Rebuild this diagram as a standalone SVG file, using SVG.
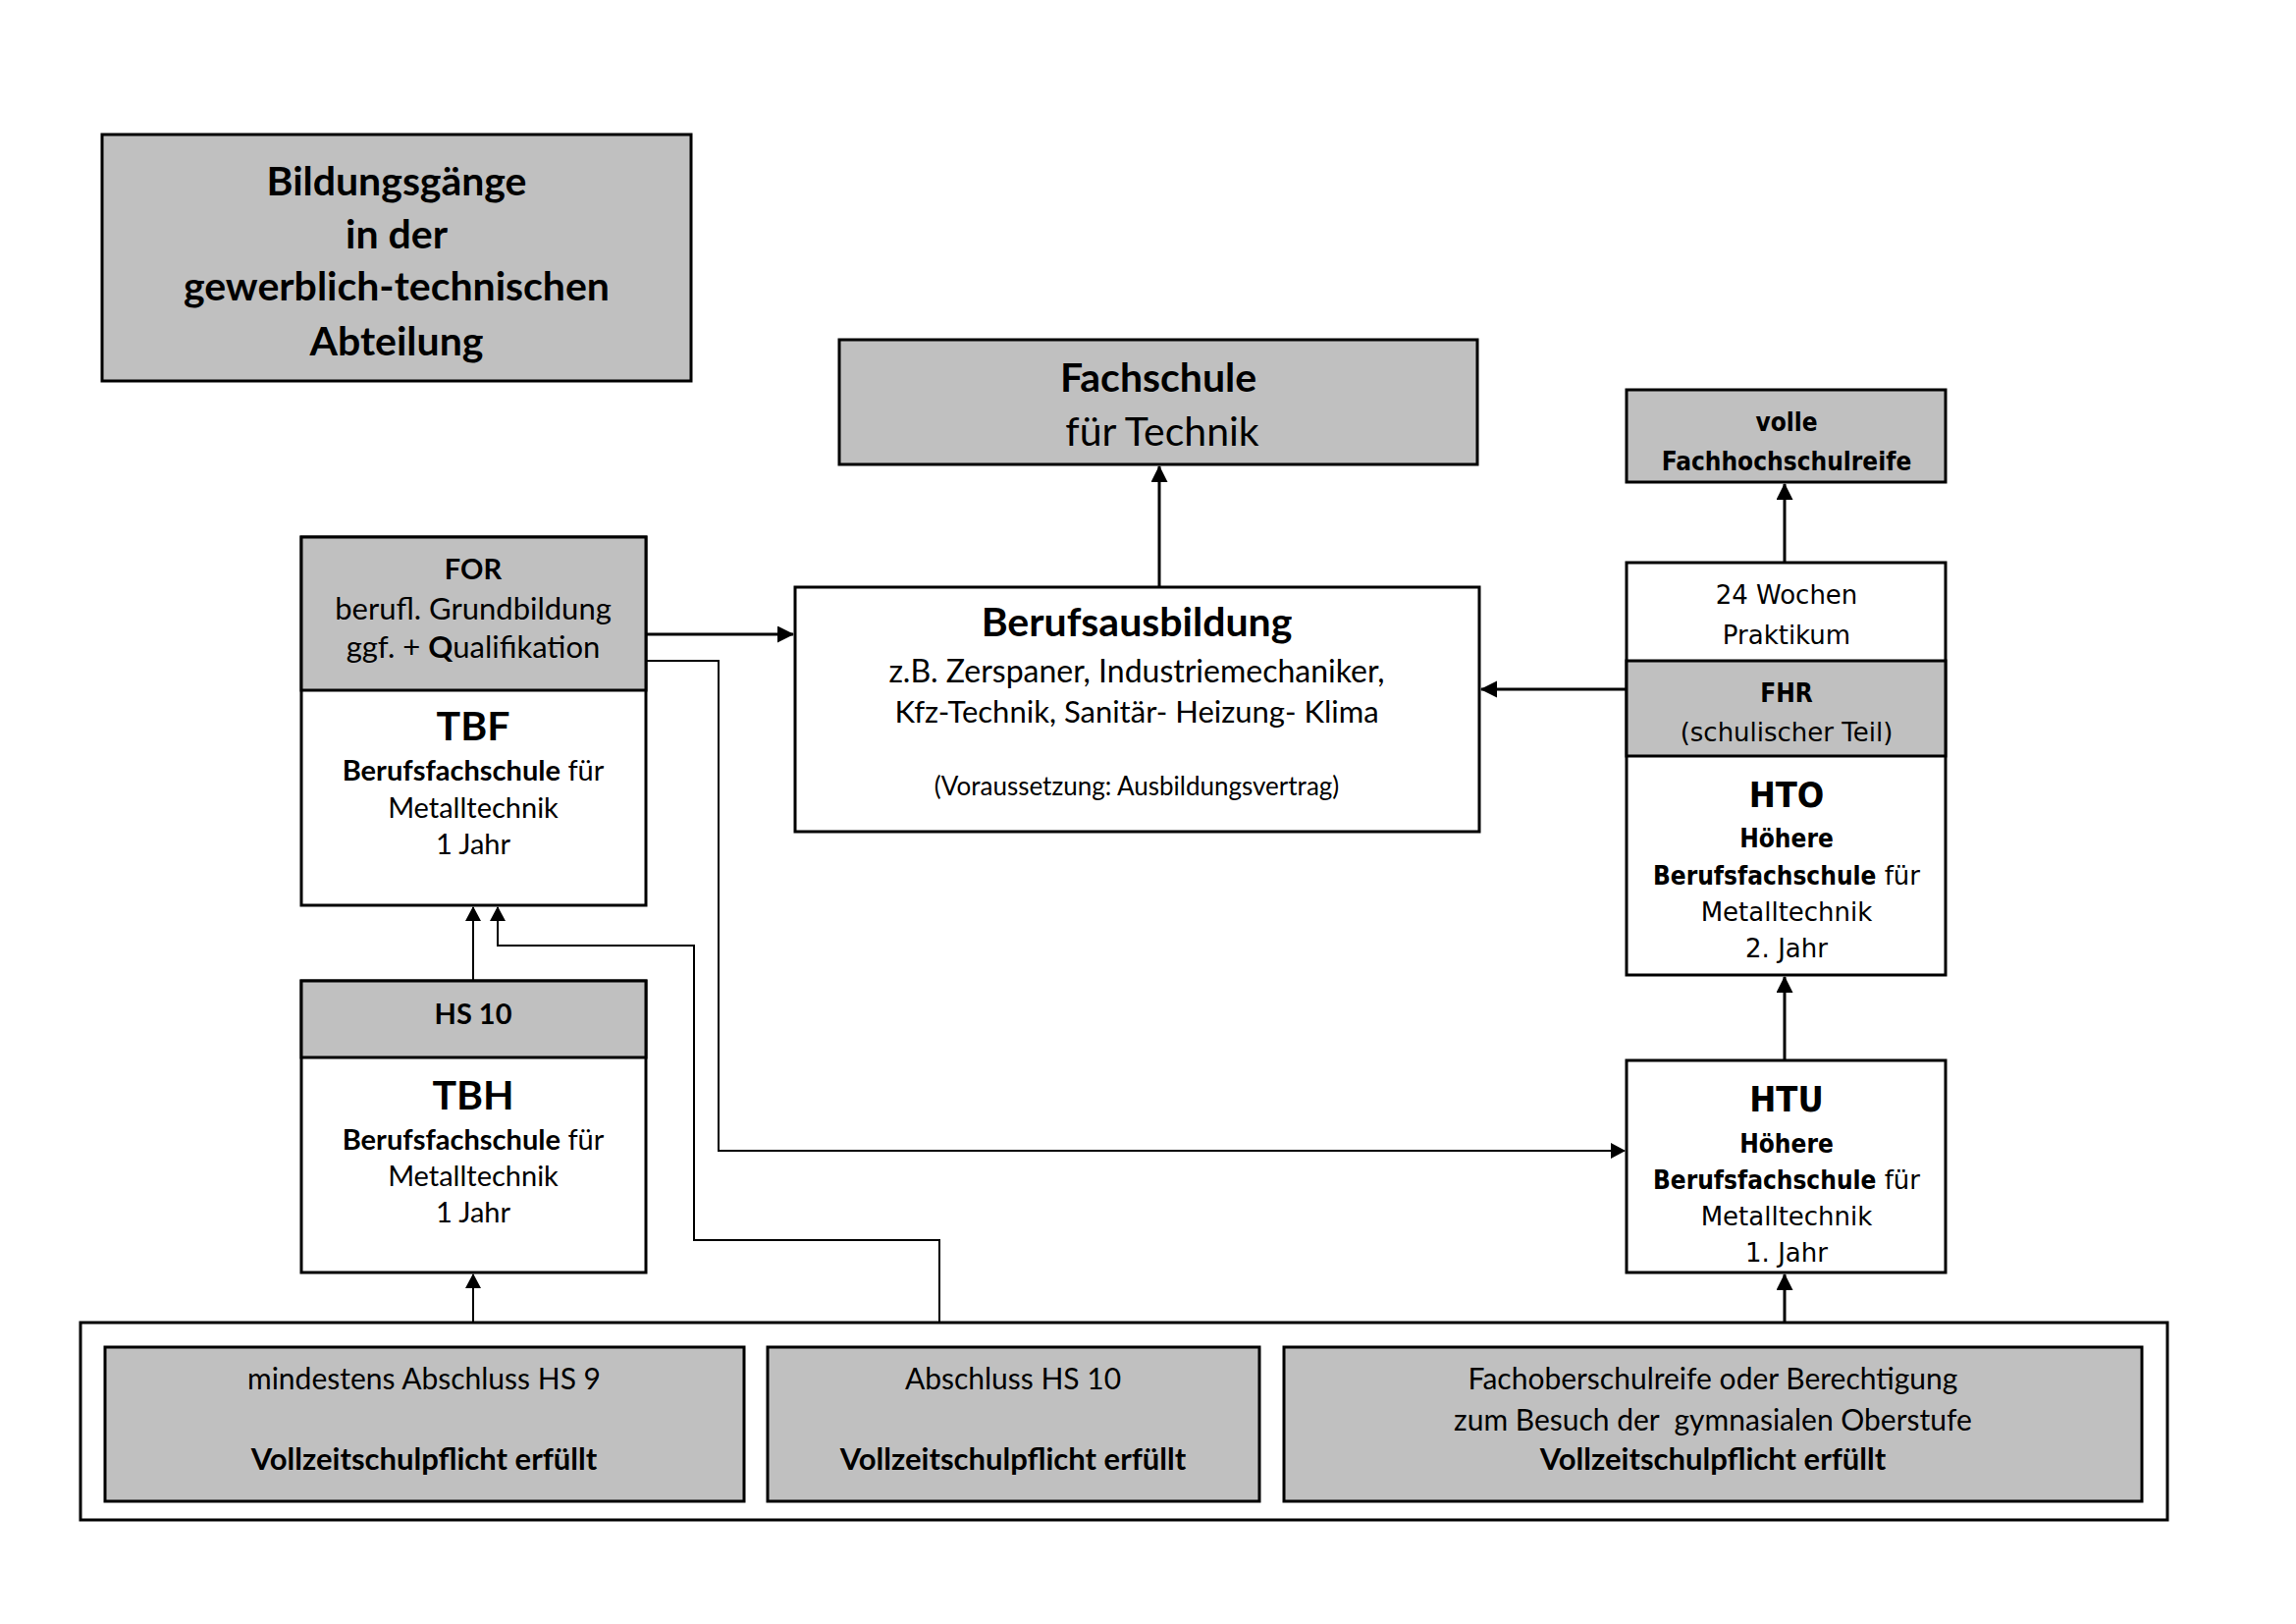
<svg xmlns="http://www.w3.org/2000/svg" width="2339" height="1654" viewBox="0 0 2339 1654">
<style>
.box{fill:#fff;stroke:#000;stroke-width:3}
.gray{fill:#C0C0C0;stroke:#000;stroke-width:3}
.c{font-family:Lato,"Open Sans",sans-serif;text-anchor:middle;fill:#000}
.t{font-family:"DejaVu Sans",sans-serif;text-anchor:middle;fill:#000;font-size:26px}
.tb{font-family:"DejaVu Sans Condensed","DejaVu Sans",sans-serif;font-stretch:condensed;font-weight:bold}
.b{font-weight:bold}
.s41{font-size:41px}
.s32{font-size:32px}
.s31{font-size:31px}
.s30{font-size:30px}
.s29{font-size:29px}
.s26{font-size:26px}
.t36{font-size:36px}
.thick{fill:none;stroke:#000;stroke-width:3;marker-end:url(#ah)}
.thin{fill:none;stroke:#000;stroke-width:2;marker-end:url(#ahs)}
</style>
<defs>
<marker id="ah" markerUnits="userSpaceOnUse" markerWidth="18" markerHeight="18" refX="16" refY="8.5" orient="auto" viewBox="0 0 18 18">
<path d="M0,0 L17,8.5 L0,17 Z" fill="#000"/>
</marker>
<marker id="ahs" markerUnits="userSpaceOnUse" markerWidth="17" markerHeight="17" refX="14" refY="8" orient="auto" viewBox="0 0 17 17">
<path d="M0,0 L15,8 L0,16 Z" fill="#000"/>
</marker>
</defs>
<rect width="2339" height="1654" fill="#fff"/>

<g id="title">
<rect class="gray" x="104" y="137" width="600" height="251"/>
<text class="c b s41" x="404" y="199">Bildungsgänge</text>
<text class="c b s41" x="404" y="253">in der</text>
<text class="c b s41" x="404" y="306">gewerblich-technischen</text>
<text class="c b s41" x="404" y="362">Abteilung</text>
</g>

<g id="fachschule">
<rect class="gray" x="855" y="346" width="650" height="127"/>
<text class="c b s41" x="1180" y="399">Fachschule</text>
<text class="c s41" x="1184" y="454">für Technik</text>
</g>

<g id="berufsausbildung">
<rect class="box" x="810" y="598" width="697" height="249"/>
<text class="c b s41" x="1158" y="648">Berufsausbildung</text>
<text class="c s32" x="1158" y="695">z.B. Zerspaner, Industriemechaniker,</text>
<text class="c s31" x="1158" y="736">Kfz-Technik, Sanitär- Heizung- Klima</text>
<text class="c s26" x="1158" y="810">(Voraussetzung: Ausbildungsvertrag)</text>
</g>

<g id="for-tbf">
<rect class="box" x="307" y="547" width="351" height="375"/>
<rect class="gray" x="307" y="547" width="351" height="156"/>
<text class="c b s29" x="482" y="590">FOR</text>
<text class="c s31" x="482" y="631">berufl. Grundbildung</text>
<text class="c s31" x="482" y="670">ggf. + <tspan class="b">Q</tspan>ualifikation</text>
<text class="c b s41" x="482" y="754">TBF</text>
<text class="c s29" x="482" y="795"><tspan class="b">Berufsfachschule</tspan> für</text>
<text class="c s29" x="482" y="833">Metalltechnik</text>
<text class="c s29" x="482" y="870">1 Jahr</text>
</g>

<g id="hs10-tbh">
<rect class="box" x="307" y="999" width="351" height="297"/>
<rect class="gray" x="307" y="999" width="351" height="78"/>
<text class="c b s29" x="482" y="1043">HS 10</text>
<text class="c b s41" x="482" y="1130">TBH</text>
<text class="c s29" x="482" y="1171"><tspan class="b">Berufsfachschule</tspan> für</text>
<text class="c s29" x="482" y="1208">Metalltechnik</text>
<text class="c s29" x="482" y="1245">1 Jahr</text>
</g>

<g id="fhr-voll">
<rect class="gray" x="1657" y="397" width="325" height="94"/>
<text class="t tb" x="1820" y="439">volle</text>
<text class="t tb" x="1820" y="479">Fachhochschulreife</text>
</g>

<g id="praktikum-fhr-hto">
<rect class="box" x="1657" y="573" width="325" height="420"/>
<rect class="gray" x="1657" y="673" width="325" height="97"/>
<text class="t" x="1820" y="615">24 Wochen</text>
<text class="t" x="1820" y="656">Praktikum</text>
<text class="t tb" x="1820" y="715">FHR</text>
<text class="t" x="1820" y="755">(schulischer Teil)</text>
<text class="t tb t36" x="1820" y="822">HTO</text>
<text class="t tb" x="1820" y="863">Höhere</text>
<text class="t" x="1820" y="901"><tspan class="tb">Berufsfachschule</tspan> für</text>
<text class="t" x="1820" y="938">Metalltechnik</text>
<text class="t" x="1820" y="975">2. Jahr</text>
</g>

<g id="htu">
<rect class="box" x="1657" y="1080" width="325" height="216"/>
<text class="t tb t36" x="1820" y="1132">HTU</text>
<text class="t tb" x="1820" y="1174">Höhere</text>
<text class="t" x="1820" y="1211"><tspan class="tb">Berufsfachschule</tspan> für</text>
<text class="t" x="1820" y="1248">Metalltechnik</text>
<text class="t" x="1820" y="1285">1. Jahr</text>
</g>

<g id="voraussetzungen">
<rect class="box" x="82" y="1347" width="2126" height="201"/>
<g id="hs9">
<rect class="gray" x="107" y="1372" width="651" height="157"/>
<text class="c s30" x="432" y="1415">mindestens Abschluss HS 9</text>
<text class="c b s31" x="432" y="1497">Vollzeitschulpflicht erfüllt</text>
</g>
<g id="hs10">
<rect class="gray" x="782" y="1372" width="501" height="157"/>
<text class="c s30" x="1032" y="1415">Abschluss HS 10</text>
<text class="c b s31" x="1032" y="1497">Vollzeitschulpflicht erfüllt</text>
</g>
<g id="fosr">
<rect class="gray" x="1308" y="1372" width="874" height="157"/>
<text class="c s30" x="1745" y="1415">Fachoberschulreife oder Berechtigung</text>
<text class="c s30" x="1745" y="1457" xml:space="preserve">zum Besuch der  gymnasialen Oberstufe</text>
<text class="c b s31" x="1745" y="1497">Vollzeitschulpflicht erfüllt</text>
</g>
</g>

<g id="connectors">
<path class="thick" d="M1181,598 V475"/>
<path class="thick" d="M658,646 H808"/>
<path class="thin" d="M658,673 H732 V1172 H1655"/>
<path class="thin" d="M482,999 V924"/>
<path class="thin" d="M957,1347 V1263 H707 V963 H507 V924"/>
<path class="thin" d="M482,1347 V1298"/>
<path class="thick" d="M1818,1347 V1298"/>
<path class="thick" d="M1818,1080 V995"/>
<path class="thick" d="M1818,573 V493"/>
<path class="thick" d="M1657,702 H1509"/>
</g>
</svg>
